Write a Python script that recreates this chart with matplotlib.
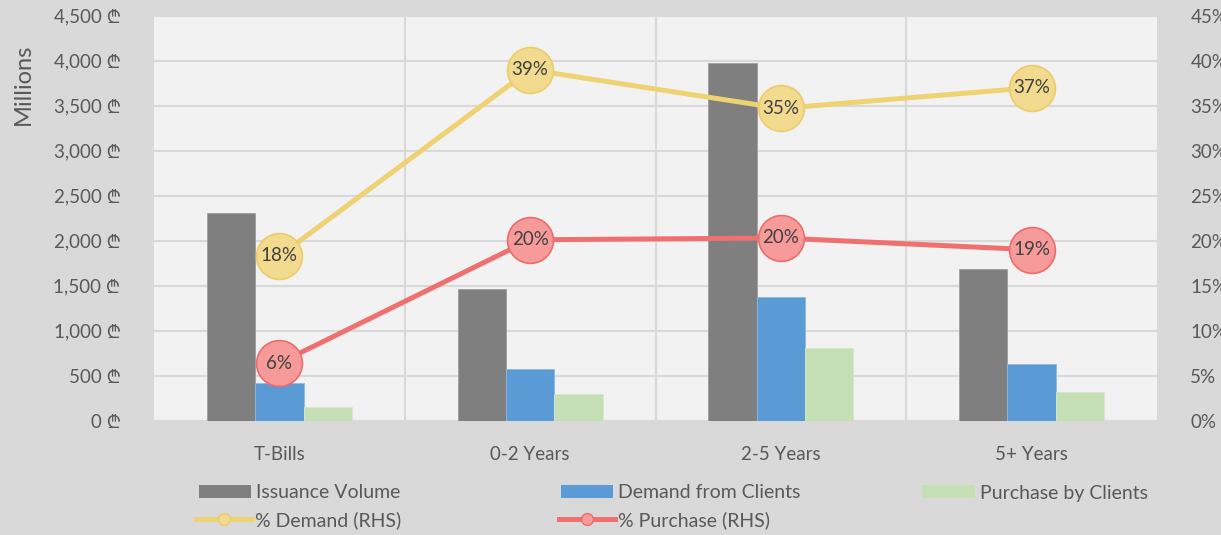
import matplotlib
matplotlib.use('Agg')
import matplotlib.pyplot as plt
from matplotlib import font_manager
from matplotlib.ft2font import FT2Font
from matplotlib.lines import Line2D
from matplotlib.patches import Patch
import numpy as np

categories = ['T-Bills', '0-2 Years', '2-5 Years', '5+ Years']
issuance_volume = [2305, 1460, 3975, 1690]
demand_from_clients = [420, 570, 1380, 628]
purchase_by_clients = [152, 297, 804, 315]
pct_demand = [18.3, 39.0, 34.7, 37.0]
pct_purchase = [6.4, 20.1, 20.3, 19.0]
left_ticks = [0, 500, 1000, 1500, 2000, 2500, 3000, 3500, 4000, 4500]
right_ticks = [0, 5, 10, 15, 20, 25, 30, 35, 40, 45]
series_names = ['Issuance Volume', 'Demand from Clients', 'Purchase by Clients',
                '% Demand (RHS)', '% Purchase (RHS)']
CURRENCY = '\u20be'


def family_with(char, candidates):
    for fam in candidates:
        try:
            path = font_manager.findfont(font_manager.FontProperties(family=fam),
                                         fallback_to_default=False)
            if ord(char) in FT2Font(path).get_charmap():
                return fam
        except Exception:
            pass
    return None


cands = ['Lato', 'Noto Sans', 'Roboto', 'Open Sans', 'Inter', 'Liberation Sans',
         'DejaVu Sans', 'Noto Sans CJK SC', 'Noto Sans CJK JP', 'DejaVu Serif',
         'Liberation Serif', 'Noto Serif']
lari_fam = family_with(CURRENCY, cands)
FONT = ['Lato'] + ([lari_fam] if lari_fam and lari_fam != 'Lato' else []) + ['DejaVu Sans']
plt.rcParams['font.family'] = FONT
TXT = '#595959'

W, H = 1221, 535
fig = plt.figure(figsize=(W / 100, H / 100), dpi=100, facecolor='#D9D9D9')
ax = fig.add_axes([154 / W, 1 - 420.7 / H, (1157 - 154) / W, (420.7 - 15.7) / H])
ax.set_facecolor('#F2F2F2')

x = np.arange(len(categories))
bw = 0.193
ax.bar(x - bw, issuance_volume, bw, color='#7F7F7F', edgecolor='#A0A0A0', linewidth=0.6, zorder=3)
ax.bar(x, demand_from_clients, bw, color='#5B9BD5', edgecolor='#8DB9E3', linewidth=0.6, zorder=3)
ax.bar(x + bw, purchase_by_clients, bw, color='#C5E0B4', edgecolor='#D5E8C8', linewidth=0.6, zorder=3)

ax.set_xlim(-0.5, len(categories) - 0.5)
ax.set_ylim(0, 4500)
ax.set_yticks(left_ticks)
ax.set_yticklabels([f'{v:,} {CURRENCY}' for v in left_ticks])
ax.set_xticks(x)
ax.set_xticklabels(categories)
ax.set_xticks(np.arange(len(categories) - 1) + 0.5, minor=True)
ax.grid(axis='y', which='major', color='#D9D9D9', linewidth=1.5, zorder=0)
ax.grid(axis='x', which='minor', color='#D9D9D9', linewidth=1.5, zorder=0)
ax.tick_params(axis='both', which='both', length=0, colors=TXT, labelsize=13.5)
ax.tick_params(axis='y', pad=24)
ax.tick_params(axis='x', pad=18)
for s in ax.spines.values():
    s.set_visible(False)

ax2 = ax.twinx()
ax2.set_ylim(0, 45)
ax2.set_yticks(right_ticks)
ax2.set_yticklabels([f'{v}%' for v in right_ticks])
ax2.tick_params(axis='y', length=0, colors=TXT, labelsize=13.5, pad=24)
for s in ax2.spines.values():
    s.set_visible(False)

yl, yf, ye = '#EFD272', '#F2DA8E', '#EBCD6A'
rl, rf, re_ = '#F07070', '#F79A9A', '#EC6C6C'
ax2.plot(x, pct_demand, color=yl, lw=3.6, marker='o', ms=33, mfc=yf, mec=ye, mew=1.2, zorder=4)
ax2.plot(x, pct_purchase, color=rl, lw=3.6, marker='o', ms=33, mfc=rf, mec=re_, mew=1.2, zorder=4)
for xi, v in zip(x, pct_demand):
    ax2.text(xi, v, f'{round(v)}%', ha='center', va='center', fontsize=13.5, color='#404040', zorder=5)
for xi, v in zip(x, pct_purchase):
    ax2.text(xi, v, f'{round(v)}%', ha='center', va='center', fontsize=13.5, color='#404040', zorder=5)

fig.text(23 / W, 1 - 84.5 / H, 'Millions', rotation=90, ha='center', va='center',
         fontsize=17, color=TXT)

LFS = 14
em = LFS * 100 / 72
entries = [
    (Patch(facecolor='#7F7F7F'), series_names[0], 199, 493, 52, 5),
    (Patch(facecolor='#5B9BD5'), series_names[1], 561, 493, 52, 5),
    (Patch(facecolor='#C5E0B4'), series_names[2], 922, 493, 53, 5),
    (Line2D([], [], color=yl, lw=3.6, marker='o', ms=8.5, mfc=yf, mec=ye), series_names[3], 196, 520, 56, 3),
    (Line2D([], [], color=rl, lw=3.6, marker='o', ms=8.5, mfc=rf, mec=re_), series_names[4], 559, 520, 56, 3),
]
for h, lab, px, py, hl, tp in entries:
    fig.legend([h], [lab], loc='center left', bbox_to_anchor=(px / W, 1 - py / H),
               frameon=False, fontsize=LFS, labelcolor=TXT, borderpad=0, borderaxespad=0,
               handlelength=hl / em, handleheight=0.68, handletextpad=tp / em)

fig.savefig('out.png', dpi=100, facecolor=fig.get_facecolor())
